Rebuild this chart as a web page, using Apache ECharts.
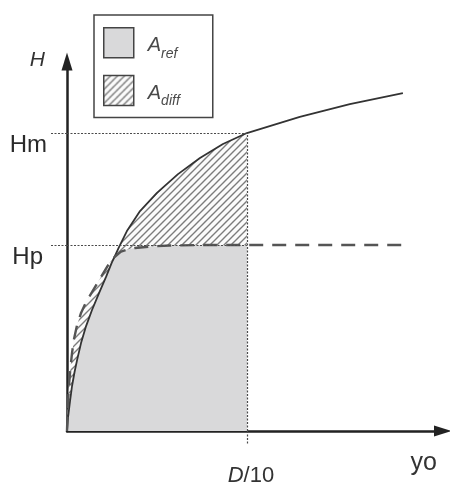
<!DOCTYPE html>
<html>
<head>
<meta charset="utf-8">
<script src="https://cdn.jsdelivr.net/npm/echarts@6/dist/echarts.min.js"></script>
<style>
  html, body { margin: 0; padding: 0; background: #fff; }
  #chart { width: 450px; height: 484px; }
</style>
</head>
<body>
<div id="chart"></div>
<script>
// Characteristic values on the axes
const H_M = 10;        // Hm
const H_P = 6.24;      // Hp
const X_REF = 10;      // D/10
const X_MAX = 20.9;
const Y_MAX = 12.4;

const yTickValues = [H_P, H_M];
const yTickNames = ['Hp', 'Hm'];
const xTickValues = [X_REF];

// Point where the two curves meet
const CROSS = [2.64, 5.84];

// Measured curve (solid)
const solidCurve = [
  [0, 0], [0.06, 0.47], [0.17, 1.01], [0.28, 1.51], [0.42, 1.98], [0.56, 2.38],
  [0.78, 2.95], [1.06, 3.52], [1.39, 4.06], [1.78, 4.63], [2.17, 5.17], [2.5, 5.67],
  CROSS, [2.89, 6.17], [3.33, 6.71], [4.06, 7.38], [5.0, 7.99], [6.17, 8.62],
  [7.39, 9.16], [8.67, 9.63], [10, 10], [12.94, 10.54], [15.72, 10.97], [18.67, 11.34]
];

// Reference curve (dashed)
const dashedCurve = [
  [0, 0], [0.03, 0.6], [0.07, 1.11], [0.12, 1.61], [0.19, 2.11], [0.28, 2.62],
  [0.39, 3.09], [0.56, 3.56], [0.78, 3.96], [1.06, 4.33], [1.39, 4.66], [1.72, 5.0],
  [2.06, 5.34], [2.39, 5.67], CROSS, [3.0, 6.02], [3.33, 6.09], [3.78, 6.14],
  [4.61, 6.19], [5.72, 6.225], [7.39, 6.24], [10, 6.24], [12.94, 6.24], [15.72, 6.24], [18.67, 6.24]
];

// Split a curve at the crossing point
function splitAtCross(curve) {
  const i = curve.indexOf(CROSS);
  return [curve.slice(0, i + 1), curve.slice(i + 1)];
}
const [solidLow, solidHigh] = splitAtCross(solidCurve);
const [dashLow, dashHigh] = splitAtCross(dashedCurve);
const upToRef = pts => pts.filter(p => p[0] <= X_REF);

// Upper and lower envelopes of the two curves, up to D/10
const upperEdge = dashLow.concat(upToRef(solidHigh));
const lowerEdge = solidLow.concat(upToRef(dashHigh));

// Diagonal hatch tile used as a fill pattern
function hatchTile() {
  const s = 7;
  const c = document.createElement('canvas');
  c.width = s; c.height = s;
  const g = c.getContext('2d');
  g.fillStyle = '#fbfbfb';
  g.fillRect(0, 0, s, s);
  g.strokeStyle = '#7c7c7c';
  g.lineWidth = 1.4;
  g.beginPath();
  g.moveTo(-1, s + 1); g.lineTo(s + 1, -1);
  g.moveTo(-1, 1); g.lineTo(1, -1);
  g.moveTo(s - 1, s + 1); g.lineTo(s + 1, s - 1);
  g.stroke();
  return { image: c, repeat: 'repeat' };
}
const hatch = hatchTile();

const FONT = 'Liberation Sans, Arial, sans-serif';
const GREY = '#d9d9da';
const refLine = { color: '#4a4a4a', width: 1.2, type: [2, 1.5] };

const chart = echarts.init(document.getElementById('chart'));
chart.setOption({
  animation: false,
  backgroundColor: '#fff',
  textStyle: { fontFamily: FONT },
  grid: { left: 67, right: 7, top: 61.5, bottom: 53, containLabel: false, outerBoundsMode: 'none' },
  legend: {
    orient: 'vertical',
    left: 94,
    top: 15,
    itemWidth: 30,
    itemHeight: 30,
    itemGap: 14,
    padding: [12, 33, 9, 9],
    borderColor: '#444',
    borderWidth: 1.5,
    borderRadius: 0,
    backgroundColor: '#fff',
    selectedMode: false,
    data: [
      { name: 'A_ref', icon: 'rect', itemStyle: { color: GREY, borderColor: '#444', borderWidth: 1.5 } },
      { name: 'A_diff', icon: 'rect', itemStyle: { color: hatch, borderColor: '#444', borderWidth: 1.5 } }
    ],
    formatter: name => {
      const [base, sub] = name.split('_');
      return '{a|' + base + '}{s|' + sub + '}';
    },
    textStyle: {
      color: '#4a4a4a',
      padding: [14, 0, 0, 0],
      rich: {
        a: { fontFamily: FONT, fontStyle: 'italic', fontSize: 20, lineHeight: 22, color: '#4a4a4a',
             padding: [0, 0, 5, 9], verticalAlign: 'bottom' },
        s: { fontFamily: FONT, fontStyle: 'italic', fontSize: 14, lineHeight: 15, color: '#4a4a4a',
             verticalAlign: 'bottom' }
      }
    }
  },
  xAxis: {
    type: 'value',
    min: 0,
    max: X_MAX,
    name: 'yo',
    nameLocation: 'end',
    nameGap: -6,
    nameTextStyle: { fontFamily: FONT, fontSize: 25, color: '#333', align: 'right', verticalAlign: 'top',
                     padding: [20, 0, 0, 0] },
    axisLine: { show: true, symbol: ['none', 'triangle'], symbolSize: [11, 18],
                lineStyle: { color: '#222', width: 2.5 } },
    axisTick: { show: true, customValues: xTickValues, length: 14, inside: false, lineStyle: refLine },
    axisLabel: {
      show: true,
      customValues: xTickValues,
      margin: 34,
      formatter: () => '{i|D}{n|/10}',
      rich: {
        i: { fontFamily: FONT, fontStyle: 'italic', fontSize: 22, color: '#333', padding: [0, 0, 0, 8] },
        n: { fontFamily: FONT, fontSize: 22, color: '#333' }
      }
    },
    splitLine: { show: false }
  },
  yAxis: {
    type: 'value',
    min: 0,
    max: Y_MAX,
    name: 'H',
    nameLocation: 'end',
    nameGap: 1,
    nameTextStyle: { fontFamily: FONT, fontStyle: 'italic', fontSize: 21, color: '#333',
                     align: 'right', verticalAlign: 'middle', padding: [0, 22, 0, 0] },
    axisLine: { show: true, symbol: ['none', 'triangle'], symbolSize: [11, 18],
                lineStyle: { color: '#222', width: 2.5 } },
    axisTick: { show: true, customValues: yTickValues, length: 17, inside: false, lineStyle: refLine },
    axisLabel: {
      show: true,
      customValues: yTickValues,
      margin: 20,
      verticalAlign: 'top',
      formatter: v => {
        const name = yTickNames[yTickValues.indexOf(v)];
        return name === 'Hp' ? '{p|' + name + '}' : '{m|' + name + '}';
      },
      rich: {
        m: { fontFamily: FONT, fontSize: 24, lineHeight: 24, color: '#2a2a2a' },
        p: { fontFamily: FONT, fontSize: 24, lineHeight: 24, color: '#2a2a2a', padding: [0, 4, 0, 0] }
      }
    },
    splitLine: { show: false }
  },
  series: [
    {
      name: 'A_diff',
      type: 'line',
      data: upperEdge,
      symbol: 'none',
      silent: true,
      z: 1,
      lineStyle: { width: 0 },
      areaStyle: { color: hatch, opacity: 1 }
    },
    {
      name: 'A_ref',
      type: 'line',
      data: lowerEdge,
      symbol: 'none',
      silent: true,
      z: 2,
      lineStyle: { width: 0 },
      areaStyle: { color: GREY, opacity: 1 }
    },
    {
      name: 'measured',
      type: 'line',
      data: solidCurve,
      symbol: 'none',
      silent: true,
      z: 4,
      lineStyle: { color: '#333', width: 1.8 },
      markLine: {
        silent: true,
        symbol: ['none', 'none'],
        label: { show: false },
        lineStyle: refLine,
        data: [
          [{ coord: [0, H_M] }, { coord: [X_REF, H_M] }],
          [{ coord: [0, H_P] }, { coord: [X_REF, H_P] }],
          [{ coord: [X_REF, 0] }, { coord: [X_REF, H_M] }]
        ]
      }
    },
    {
      name: 'reference',
      type: 'line',
      data: dashedCurve,
      symbol: 'none',
      silent: true,
      z: 4,
      lineStyle: { color: '#555', width: 2.4, type: [14, 9] }
    }
  ]
});
</script>
</body>
</html>
